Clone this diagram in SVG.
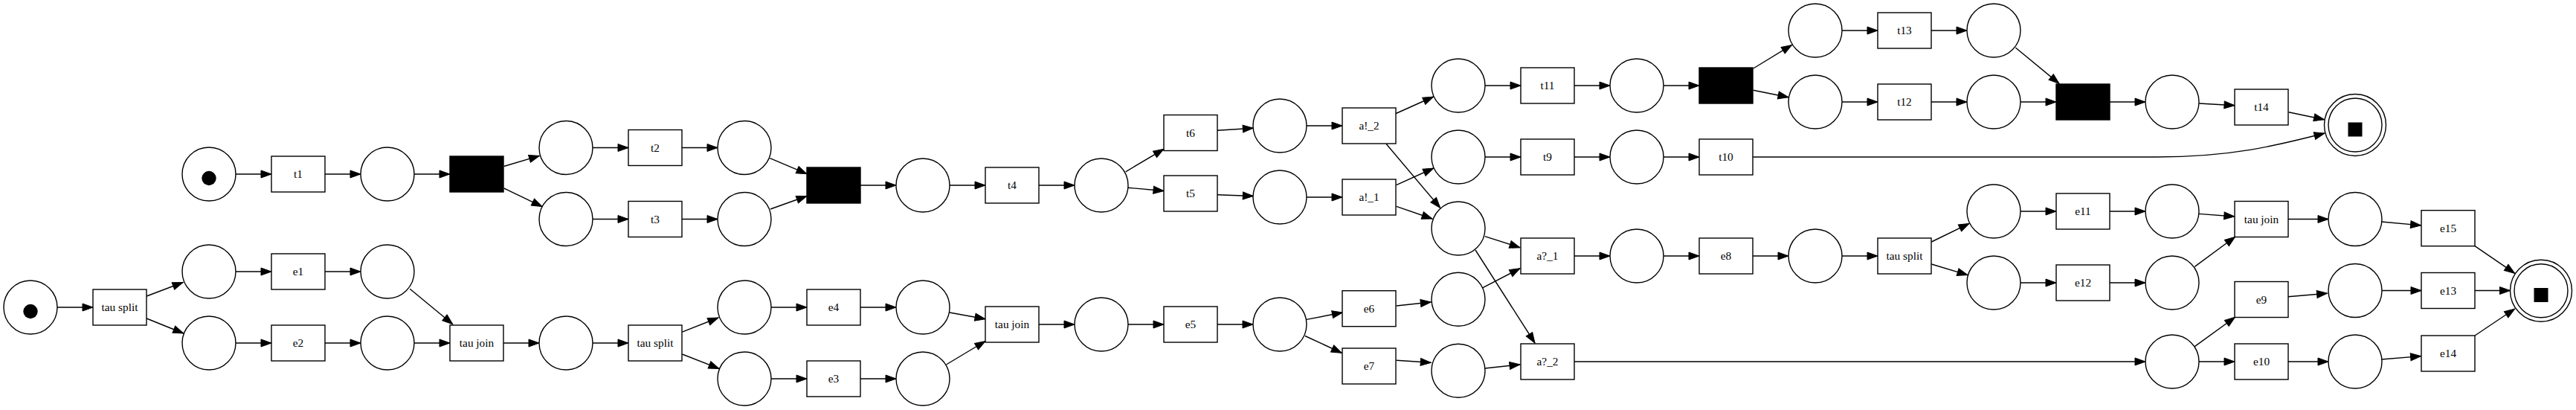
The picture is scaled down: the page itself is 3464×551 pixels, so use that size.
<svg xmlns="http://www.w3.org/2000/svg" width="3464" height="551" viewBox="0 0 3464 551">
<style>
.p{fill:#fff;stroke:#000;stroke-width:1.4}
.t{fill:#fff;stroke:#000;stroke-width:1.4}
.b{fill:#000;stroke:#000;stroke-width:1.4}
.k{fill:#000}
text{font-family:"Liberation Serif","Times New Roman",serif;font-size:15.3px;text-anchor:middle;fill:#000}
.e path{fill:none;stroke:#000;stroke-width:1.4;marker-end:url(#a)}
</style>
<defs>
<marker id="a" markerUnits="userSpaceOnUse" markerWidth="16" markerHeight="12" refX="14" refY="5" orient="auto" overflow="visible">
<path d="M0,0 L14,5 L0,10 z" fill="#000" stroke="#000" stroke-width="1"/>
</marker>
</defs>
<rect width="3464" height="551" fill="#fff"/>
<g id="edges" class="e">
<path d="M317,234 H365"/>
<path d="M437,234 H485"/>
<path d="M557,234 H605"/>
<path d="M677.7,223.5 L725.4,209.4"/>
<path d="M677.7,253 L729,277.6"/>
<path d="M797,198.5 H845"/>
<path d="M917,198.5 H965"/>
<path d="M797,294.5 H845"/>
<path d="M917,294.5 H965"/>
<path d="M1035.4,212.6 L1085,233.7"/>
<path d="M1036,281 L1085,263.5"/>
<path d="M1157,249 H1205"/>
<path d="M1277,249 H1325"/>
<path d="M1397,249 H1445"/>
<path d="M1513.7,230.8 L1565,200.3"/>
<path d="M1517,252.3 L1565,256.5"/>
<path d="M1637,175.3 L1685.3,172.2"/>
<path d="M1637,261.8 L1685.3,263.5"/>
<path d="M1757,169 H1805"/>
<path d="M1757,265 H1805"/>
<path d="M1877.2,152.5 L1927.5,130"/>
<path d="M1864,193.3 L1936.7,279.3"/>
<path d="M1877.7,248.7 L1927.7,226"/>
<path d="M1877.7,277.3 L1926,294"/>
<path d="M1997,115 H2045"/>
<path d="M2117,115 H2165"/>
<path d="M2237,115 H2285"/>
<path d="M1997,211 H2045"/>
<path d="M2117,211 H2165"/>
<path d="M2237,211 H2285"/>
<path d="M1996.7,317.7 L2044,332.7"/>
<path d="M1984,336 L2064,461"/>
<path d="M2117,344 H2165"/>
<path d="M2237,344 H2285"/>
<path d="M2357,344 H2405"/>
<path d="M2477,344 H2525"/>
<path d="M2357.7,92 L2409.5,60.4"/>
<path d="M2357.7,121.2 L2405,130.7"/>
<path d="M2477,41 H2525"/>
<path d="M2597,41 H2645"/>
<path d="M2477,137 H2525"/>
<path d="M2597,137 H2645"/>
<path d="M2710.3,64 L2769,112.4"/>
<path d="M2717,137 H2765"/>
<path d="M2837,137 H2885"/>
<path d="M2957.3,139 L3005,141.7"/>
<path d="M3077.7,150.7 L3125.5,160.7"/>
<path d="M2357,211 H2900 C3000,211 3060,196 3126,179"/>
<path d="M2597.4,325 L2648,300.4"/>
<path d="M2597.4,355 L2646,369.6"/>
<path d="M2717,284 H2765"/>
<path d="M2717,380 H2765"/>
<path d="M2837,284 H2885"/>
<path d="M2837,380 H2885"/>
<path d="M2957,287.4 L3004.8,291"/>
<path d="M2951.3,358.4 L3005.6,318.3"/>
<path d="M3077,294.5 H3131"/>
<path d="M3202,298 L3255.6,302.9"/>
<path d="M3328,330.7 L3381.7,367.3"/>
<path d="M3328,390.5 H3375.5"/>
<path d="M3328,451 L3381.7,415"/>
<path d="M2117,486 H2885"/>
<path d="M2951.3,465.6 L3005.6,426.2"/>
<path d="M2957,486 H3005"/>
<path d="M3076.9,398.8 L3129.6,394.2"/>
<path d="M3203,390.5 H3256"/>
<path d="M3077,486 H3131"/>
<path d="M3202,483 L3255.6,478.6"/>
<path d="M77,413 H125"/>
<path d="M197.2,398 L246,379.5"/>
<path d="M197.2,428 L246.8,448"/>
<path d="M317,365 H365"/>
<path d="M437,365 H485"/>
<path d="M317,461 H365"/>
<path d="M437,461 H485"/>
<path d="M551.2,388.3 L608.8,435.7"/>
<path d="M557,461 H605"/>
<path d="M677,461 H725"/>
<path d="M797,461 H845"/>
<path d="M917.4,446.2 L965.9,427"/>
<path d="M917.4,476 L967,495.4"/>
<path d="M1037,413 H1085"/>
<path d="M1037,509 H1085"/>
<path d="M1157,413 H1205"/>
<path d="M1157,509 H1205"/>
<path d="M1276.9,420 L1325,428.7"/>
<path d="M1272.4,490 L1325,458.5"/>
<path d="M1397,436 H1445"/>
<path d="M1517,436 H1565"/>
<path d="M1637,436 H1685"/>
<path d="M1757,429.4 L1805.4,420"/>
<path d="M1755,451.5 L1804.3,474.3"/>
<path d="M1877.7,411 L1924.3,406"/>
<path d="M1877.7,484.3 L1924.3,487.3"/>
<path d="M1994,386.7 L2044,360.7"/>
<path d="M1996.7,495 L2044,490"/>
</g>
<g id="start1"><circle class="p" cx="281" cy="234" r="36"/><circle class="k" cx="281" cy="239.5" r="9.7"/></g>
<g id="t1"><rect class="t" x="365" y="210" width="72" height="48"/><text x="401" y="239">t1</text></g>
<g id="p1"><circle class="p" cx="521" cy="234" r="36"/></g>
<g id="black1"><rect class="b" x="605" y="210" width="72" height="48"/></g>
<g id="p2"><circle class="p" cx="761" cy="198.5" r="36"/></g>
<g id="p3"><circle class="p" cx="761" cy="294.5" r="36"/></g>
<g id="t2"><rect class="t" x="845" y="174.5" width="72" height="48"/><text x="881" y="203.5">t2</text></g>
<g id="t3"><rect class="t" x="845" y="270.5" width="72" height="48"/><text x="881" y="299.5">t3</text></g>
<g id="p4"><circle class="p" cx="1001" cy="198.5" r="36"/></g>
<g id="p5"><circle class="p" cx="1001" cy="294.5" r="36"/></g>
<g id="black2"><rect class="b" x="1085" y="225" width="72" height="48"/></g>
<g id="p6"><circle class="p" cx="1241" cy="249" r="36"/></g>
<g id="t4"><rect class="t" x="1325" y="225" width="72" height="48"/><text x="1361" y="254">t4</text></g>
<g id="p7"><circle class="p" cx="1481" cy="249" r="36"/></g>
<g id="t6"><rect class="t" x="1565" y="154.5" width="72" height="48"/><text x="1601" y="183.5">t6</text></g>
<g id="t5"><rect class="t" x="1565" y="236" width="72" height="48"/><text x="1601" y="265">t5</text></g>
<g id="p8"><circle class="p" cx="1721" cy="169" r="36"/></g>
<g id="p9"><circle class="p" cx="1721" cy="265" r="36"/></g>
<g id="a_2"><rect class="t" x="1805" y="145" width="72" height="48"/><text x="1841" y="174">a!_2</text></g>
<g id="a_1"><rect class="t" x="1805" y="241" width="72" height="48"/><text x="1841" y="270">a!_1</text></g>
<g id="p10"><circle class="p" cx="1961" cy="115" r="36"/></g>
<g id="p11"><circle class="p" cx="1961" cy="211" r="36"/></g>
<g id="p12"><circle class="p" cx="1961" cy="307" r="36"/></g>
<g id="t11"><rect class="t" x="2045" y="91" width="72" height="48"/><text x="2081" y="120">t11</text></g>
<g id="t9"><rect class="t" x="2045" y="187" width="72" height="48"/><text x="2081" y="216">t9</text></g>
<g id="aq_1"><rect class="t" x="2045" y="320" width="72" height="48"/><text x="2081" y="349">a?_1</text></g>
<g id="aq_2"><rect class="t" x="2045" y="462" width="72" height="48"/><text x="2081" y="491">a?_2</text></g>
<g id="p13"><circle class="p" cx="2201" cy="115" r="36"/></g>
<g id="p14"><circle class="p" cx="2201" cy="211" r="36"/></g>
<g id="p15"><circle class="p" cx="2201" cy="344" r="36"/></g>
<g id="black3"><rect class="b" x="2285" y="91" width="72" height="48"/></g>
<g id="t10"><rect class="t" x="2285" y="187" width="72" height="48"/><text x="2321" y="216">t10</text></g>
<g id="e8"><rect class="t" x="2285" y="320" width="72" height="48"/><text x="2321" y="349">e8</text></g>
<g id="p16"><circle class="p" cx="2441" cy="41" r="36"/></g>
<g id="p17"><circle class="p" cx="2441" cy="137" r="36"/></g>
<g id="p21"><circle class="p" cx="2441" cy="344" r="36"/></g>
<g id="t13"><rect class="t" x="2525" y="17" width="72" height="48"/><text x="2561" y="46">t13</text></g>
<g id="t12"><rect class="t" x="2525" y="113" width="72" height="48"/><text x="2561" y="142">t12</text></g>
<g id="tausplit3"><rect class="t" x="2525" y="320" width="72" height="48"/><text x="2561" y="349">tau split</text></g>
<g id="p18"><circle class="p" cx="2681" cy="41" r="36"/></g>
<g id="p19"><circle class="p" cx="2681" cy="137" r="36"/></g>
<g id="p22"><circle class="p" cx="2681" cy="284" r="36"/></g>
<g id="p23"><circle class="p" cx="2681" cy="380" r="36"/></g>
<g id="black4"><rect class="b" x="2765" y="113" width="72" height="48"/></g>
<g id="e11"><rect class="t" x="2765" y="260" width="72" height="48"/><text x="2801" y="289">e11</text></g>
<g id="e12"><rect class="t" x="2765" y="356" width="72" height="48"/><text x="2801" y="385">e12</text></g>
<g id="p20"><circle class="p" cx="2921" cy="137" r="36"/></g>
<g id="p24"><circle class="p" cx="2921" cy="284" r="36"/></g>
<g id="p25"><circle class="p" cx="2921" cy="380" r="36"/></g>
<g id="p28"><circle class="p" cx="2921" cy="486" r="36"/></g>
<g id="t14"><rect class="t" x="3005" y="120" width="72" height="48"/><text x="3041" y="149">t14</text></g>
<g id="taujoin3"><rect class="t" x="3005" y="270.5" width="72" height="48"/><text x="3041" y="299.5">tau join</text></g>
<g id="e9"><rect class="t" x="3005" y="378.5" width="72" height="48"/><text x="3041" y="407.5">e9</text></g>
<g id="e10"><rect class="t" x="3005" y="462" width="72" height="48"/><text x="3041" y="491">e10</text></g>
<g id="end1"><circle class="p" cx="3167" cy="168" r="41.5"/><circle class="p" cx="3167" cy="168" r="36"/><rect class="k" x="3157.5" y="164.5" width="19" height="19"/></g>
<g id="p26"><circle class="p" cx="3167" cy="294.5" r="36"/></g>
<g id="p27"><circle class="p" cx="3167" cy="390.5" r="36"/></g>
<g id="p29"><circle class="p" cx="3167" cy="486" r="36"/></g>
<g id="e15"><rect class="t" x="3256" y="282.7" width="72" height="48"/><text x="3292" y="311.7">e15</text></g>
<g id="e13"><rect class="t" x="3256" y="366.5" width="72" height="48"/><text x="3292" y="395.5">e13</text></g>
<g id="e14"><rect class="t" x="3256" y="451" width="72" height="48"/><text x="3292" y="480">e14</text></g>
<g id="end2"><circle class="p" cx="3417" cy="390.7" r="41.5"/><circle class="p" cx="3417" cy="390.7" r="36"/><rect class="k" x="3407.5" y="387" width="19" height="19"/></g>
<g id="start2"><circle class="p" cx="41" cy="413" r="36"/><circle class="k" cx="41" cy="418.5" r="9.7"/></g>
<g id="tausplit1"><rect class="t" x="125" y="389" width="72" height="48"/><text x="161" y="418">tau split</text></g>
<g id="p30"><circle class="p" cx="281" cy="365" r="36"/></g>
<g id="p31"><circle class="p" cx="281" cy="461" r="36"/></g>
<g id="e1"><rect class="t" x="365" y="341" width="72" height="48"/><text x="401" y="370">e1</text></g>
<g id="e2"><rect class="t" x="365" y="437" width="72" height="48"/><text x="401" y="466">e2</text></g>
<g id="p32"><circle class="p" cx="521" cy="365" r="36"/></g>
<g id="p33"><circle class="p" cx="521" cy="461" r="36"/></g>
<g id="taujoin1"><rect class="t" x="605" y="437" width="72" height="48"/><text x="641" y="466">tau join</text></g>
<g id="p34"><circle class="p" cx="761" cy="461" r="36"/></g>
<g id="tausplit2"><rect class="t" x="845" y="437" width="72" height="48"/><text x="881" y="466">tau split</text></g>
<g id="p35"><circle class="p" cx="1001" cy="413" r="36"/></g>
<g id="p36"><circle class="p" cx="1001" cy="509" r="36"/></g>
<g id="e4"><rect class="t" x="1085" y="389" width="72" height="48"/><text x="1121" y="418">e4</text></g>
<g id="e3"><rect class="t" x="1085" y="485" width="72" height="48"/><text x="1121" y="514">e3</text></g>
<g id="p37"><circle class="p" cx="1241" cy="413" r="36"/></g>
<g id="p38"><circle class="p" cx="1241" cy="509" r="36"/></g>
<g id="taujoin2"><rect class="t" x="1325" y="412" width="72" height="48"/><text x="1361" y="441">tau join</text></g>
<g id="p39"><circle class="p" cx="1481" cy="436" r="36"/></g>
<g id="e5"><rect class="t" x="1565" y="412" width="72" height="48"/><text x="1601" y="441">e5</text></g>
<g id="p40"><circle class="p" cx="1721" cy="436" r="36"/></g>
<g id="e6"><rect class="t" x="1805" y="390.7" width="72" height="48"/><text x="1841" y="419.7">e6</text></g>
<g id="e7"><rect class="t" x="1805" y="468" width="72" height="48"/><text x="1841" y="497">e7</text></g>
<g id="p41"><circle class="p" cx="1961" cy="402.3" r="36"/></g>
<g id="p42"><circle class="p" cx="1961" cy="498.3" r="36"/></g>
</svg>
